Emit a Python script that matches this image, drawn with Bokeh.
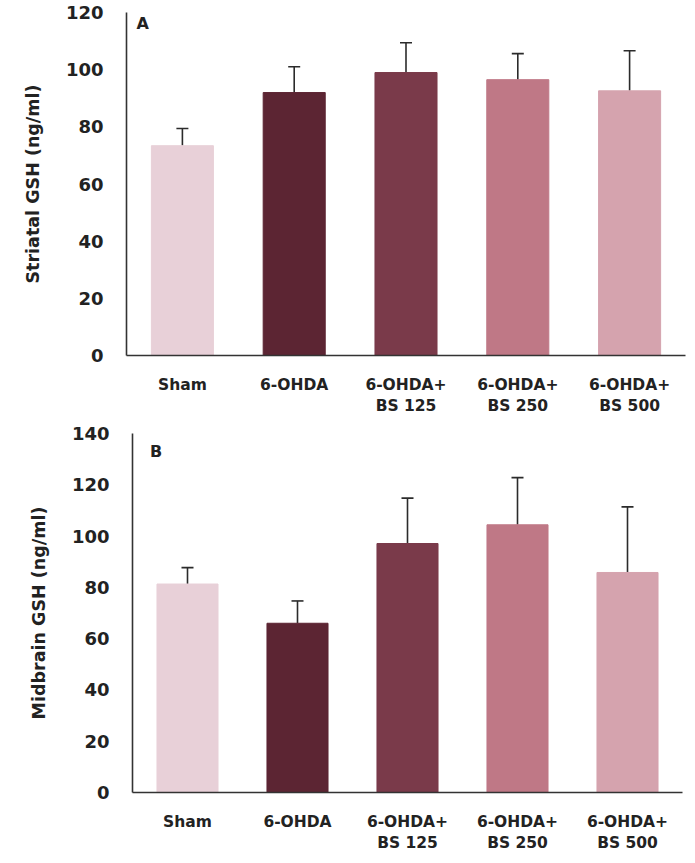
from bokeh.plotting import figure
from bokeh.models import ColumnDataSource, Whisker, TeeHead, Label, FactorRange, Range1d, FixedTicker
from bokeh.embed import file_html
from bokeh.resources import INLINE

groups = ["Sham", "6-OHDA", "6-OHDA+\nBS 125", "6-OHDA+\nBS 250", "6-OHDA+\nBS 500"]
colors = ["#e8d0d8", "#5c2533", "#7a3a4a", "#bf7886", "#d5a3ae"]

striatal_mean = [73.4, 92.0, 99.0, 96.5, 92.6]
striatal_sd = [6.0, 9.0, 10.4, 9.1, 14.0]

midbrain_mean = [81.3, 66.0, 97.1, 104.4, 85.8]
midbrain_sd = [6.4, 8.7, 17.7, 18.4, 25.6]

FONT = "DejaVu Sans"


def make_panel(means, sds, ymax, yticks, ylabel, letter, letter_x, letter_y,
               width, height, bl, br, bt, bb):
    src = ColumnDataSource(dict(
        x=groups, top=means, color=colors,
        upper=[m + s for m, s in zip(means, sds)],
    ))
    p = figure(x_range=FactorRange(*groups), y_range=Range1d(0, ymax),
               width=width, height=height, output_backend="svg",
               toolbar_location=None,
               min_border_left=bl, min_border_right=br,
               min_border_top=bt, min_border_bottom=bb)
    p.vbar(x="x", top="top", width=0.555, color="color", source=src)
    w = Whisker(base="x", lower="top", upper="upper", source=src,
                line_color="#2b2b2b", line_width=1.6,
                upper_head=TeeHead(size=12, line_color="#2b2b2b", line_width=1.6),
                lower_head=None)
    p.add_layout(w)
    p.xgrid.visible = False
    p.ygrid.visible = False
    p.outline_line_color = None
    p.background_fill_color = "white"
    p.border_fill_color = "white"

    p.yaxis.ticker = FixedTicker(ticks=yticks)
    p.yaxis.minor_tick_line_color = None
    p.yaxis.major_tick_line_color = None
    p.yaxis.major_tick_out = 0
    p.yaxis.major_tick_in = 0
    p.yaxis.major_label_standoff = 23
    p.yaxis.major_label_text_font = FONT
    p.yaxis.major_label_text_font_style = "bold"
    p.yaxis.major_label_text_font_size = "18px"
    p.yaxis.major_label_text_color = "#222222"
    p.yaxis.axis_line_color = "#333333"
    p.yaxis.axis_line_width = 1.6
    p.yaxis.axis_label = ylabel
    p.yaxis.axis_label_text_font = FONT
    p.yaxis.axis_label_text_font_style = "bold"
    p.yaxis.axis_label_text_font_size = "17.5px"
    p.yaxis.axis_label_text_color = "#222222"
    p.yaxis.axis_label_standoff = 20

    p.xaxis.major_tick_line_color = None
    p.xaxis.major_tick_out = 0
    p.xaxis.major_tick_in = 0
    p.xaxis.major_label_standoff = 20
    p.xaxis.major_label_text_font = FONT
    p.xaxis.major_label_text_font_style = "bold"
    p.xaxis.major_label_text_font_size = "15.5px"
    p.xaxis.major_label_text_color = "#222222"
    p.xaxis.axis_line_color = "#333333"
    p.xaxis.axis_line_width = 1.6

    lab = Label(x=letter_x, y=letter_y, text=letter, text_font=FONT,
                text_font_style="bold", text_font_size="16px",
                text_color="#222222", text_baseline="top", text_align="left")
    p.add_layout(lab)
    return p


p1 = make_panel(striatal_mean, striatal_sd, 120, [0, 20, 40, 60, 80, 100, 120],
                "Striatal GSH (ng/ml)", "A", 0.09, 119.5,
                691, 420, 126, 6, 12, 65)
p2 = make_panel(midbrain_mean, midbrain_sd, 140, [0, 20, 40, 60, 80, 100, 120, 140],
                "Midbrain GSH (ng/ml)", "B", 0.16, 136.5,
                691, 440, 132, 9, 13, 68)

open("out.html", "w").write(file_html([p1, p2], INLINE))
